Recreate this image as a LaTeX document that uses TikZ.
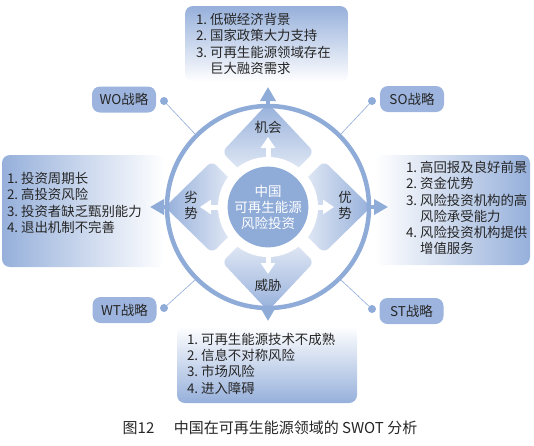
\documentclass[tikz,border=0pt]{standalone}
\usepackage{fontspec}
\setmainfont{Noto Sans CJK SC}
\usepackage{xcolor}
\usepackage{tikz}
\usetikzlibrary{arrows.meta, positioning, calc}

\definecolor{swotblue}{RGB}{143,171,216}
\definecolor{swotpill}{RGB}{157,181,222}
\definecolor{swotbox}{RGB}{150,176,219}
\definecolor{swottext}{RGB}{38,38,38}

\begin{document}
\begin{tikzpicture}[
    x=1pt, y=-1pt,
    every node/.style={font=\fontsize{13.4}{16.3}\selectfont, text=swottext},
    box/.style={rectangle, rounded corners=8pt, inner sep=0pt},
    listtxt/.style={align=left, inner sep=0pt},
    pill/.style={rectangle, rounded corners=8pt, fill=swotpill,
                 minimum width=64pt, minimum height=26pt, inner sep=0pt,
                 font=\fontsize{13.5}{15}\selectfont},
    dot/.style={circle, fill=swotblue, minimum size=8pt, inner sep=0pt},
    link/.style={draw=swotblue, line width=0.6pt},
    petal/.style={rounded corners=6pt},
    outarrow/.style={draw=swotblue, line width=4pt,
                     -{Triangle[width=15pt,length=14pt]}},
    inarrow/.style={draw=white, line width=5pt,
                    -{Triangle[width=14pt,length=11pt]}},
    face/.style={font=\fontsize{13.5}{15.5}\selectfont, inner sep=0pt,
                 align=center}
  ]
  \useasboundingbox (0,0) rectangle (534,445);
  \coordinate (c) at (268,207);

  % the four list boxes
  \node[box, top color=swotbox, bottom color=white,
        minimum width=163pt, minimum height=76pt] (opp) at (266.5,44) {};
  \node[box, left color=swotbox, right color=white,
        minimum width=163pt, minimum height=112pt] (weak) at (83.5,211) {};
  \node[box, left color=white, right color=swotbox,
        minimum width=155pt, minimum height=110pt] (strength) at (452.5,210) {};
  \node[box, top color=white, bottom color=swotbox,
        minimum width=180pt, minimum height=77pt] (threat) at (267,364.5) {};

  \node[listtxt, anchor=west] (oppList) at ([xshift=11pt]opp.west)
    {1.\ 低碳经济背景\\2.\ 国家政策大力支持\\3.\ 可再生能源领域存在\\\phantom{3.\ }巨大融资需求};
  \node[listtxt, anchor=west] (weakList) at ([xshift=5pt,yshift=8pt]weak.west)
    {1.\ 投资周期长\\2.\ 高投资风险\\3.\ 投资者缺乏甄别能力\\4.\ 退出机制不完善};
  \node[listtxt, anchor=west] (strengthList) at ([xshift=31pt,yshift=2pt]strength.west)
    {1.\ 高回报及良好前景\\2.\ 资金优势\\3.\ 风险投资机构的高\\\phantom{3.\ }风险承受能力\\4.\ 风险投资机构提供\\\phantom{4.\ }增值服务};
  \node[listtxt, anchor=west] (threatList) at ([xshift=10pt,yshift=1pt]threat.west)
    {1.\ 可再生能源技术不成熟\\2.\ 信息不对称风险\\3.\ 市场风险\\4.\ 进入障碍};

  % petals
  \path[petal, top color=swotbox, bottom color=white]
    (268,103) -- (314,152) -- (268,198) -- (222,152) -- cycle;
  \path[petal, left color=swotbox, right color=white]
    (165,207) -- (212,161) -- (258,207) -- (212,253) -- cycle;
  \path[petal, left color=white, right color=swotbox]
    (371,207) -- (324,161) -- (278,207) -- (324,253) -- cycle;
  \path[petal, top color=white, bottom color=swotbox]
    (268,311) -- (314,262) -- (268,216) -- (222,262) -- cycle;

  \node[circle, fill=white, minimum size=100pt, inner sep=0pt] (hole) at (c) {};
  \node[circle, draw=swotblue, line width=4.5pt, minimum size=202pt,
        inner sep=0pt] (ring) at (c) {};
  \node[circle, fill=swotblue, minimum size=74pt, inner sep=0pt, text=white,
        align=center, font=\fontsize{13.5}{16}\selectfont] (core) at (c)
    {中国\\可再生能源\\风险投资};

  % arrows
  \draw[inarrow] (hole.north) -- ([yshift=70pt]c);
  \draw[inarrow] (hole.west) -- ([xshift=-68pt]c);
  \draw[inarrow] (hole.east) -- ([xshift=66pt]c);
  \draw[inarrow] (hole.south) -- ([yshift=-67pt]c);

  \draw[outarrow] (ring.north) -- ([yshift=120pt]c);
  \draw[outarrow] (ring.west) -- ([xshift=-118pt]c);
  \draw[outarrow] (ring.east) -- ([xshift=120pt]c);
  \draw[outarrow] (ring.south) -- ([yshift=-114pt]c);

  % labels on the petals
  \node[face] (oppLabel) at (268,127) {机会};
  \node[face] (weakLabel) at (191,205.5) {劣\\势};
  \node[face] (strengthLabel) at (345,205.5) {优\\势};
  \node[face] (threatLabel) at (268,285) {威胁};

  % strategies
  \node[dot] (woDot) at (164,101) {};
  \node[dot] (soDot) at (372,101) {};
  \node[dot] (wtDot) at (164,308) {};
  \node[dot] (stDot) at (372,309) {};
  \draw[link] (woDot) -- (ring.135);
  \draw[link] (soDot) -- (ring.45);
  \draw[link] (wtDot) -- (ring.225);
  \draw[link] (stDot) -- (ring.315);

  \node[pill] (wo) at (124,99.5) {WO战略};
  \node[pill] (so) at (412,99) {SO战略};
  \node[pill] (wt) at (124.5,310) {WT战略};
  \node[pill] (st) at (411.5,311) {ST战略};

  \node[font=\fontsize{15}{16}\selectfont] (caption) at (270,428)
    {图12\hspace{1.3em}中国在可再生能源领域的 SWOT 分析};
\end{tikzpicture}
\end{document}
